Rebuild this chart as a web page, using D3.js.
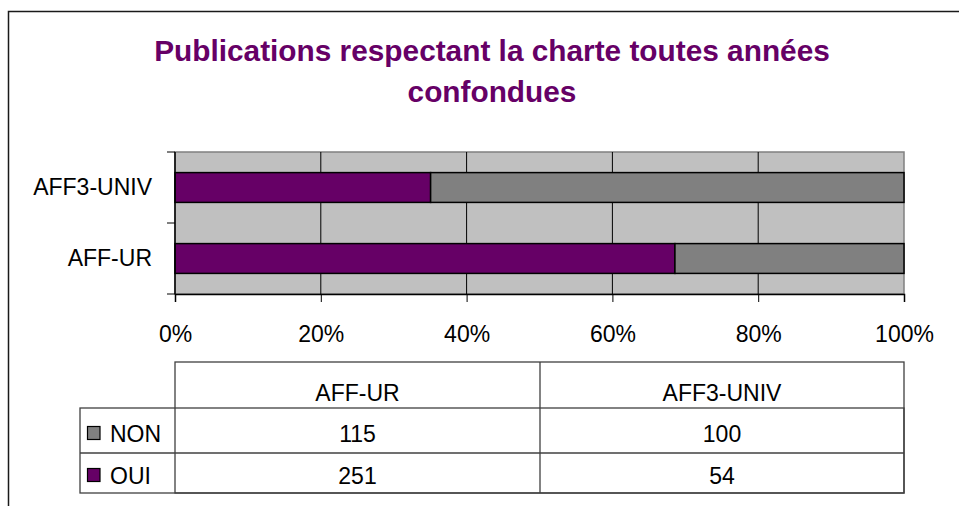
<!DOCTYPE html>
<html>
<head>
<meta charset="utf-8">
<script src="https://cdn.jsdelivr.net/npm/d3@7/dist/d3.min.js"></script>
<style>
  html, body { margin: 0; padding: 0; background: #fff; }
  svg { display: block; }
  text { font-family: "Liberation Sans", Arial, sans-serif; }
</style>
</head>
<body>
<svg id="chart" width="959" height="506"></svg>
<script>
// ---- data ----
const categories = ["AFF-UR", "AFF3-UNIV"];          // table column order
const barOrder = ["AFF3-UNIV", "AFF-UR"];            // top-to-bottom in chart
const seriesNames = ["NON", "OUI"];
const nonValues = [115, 100];
const ouiValues = [251, 54];
const tickValues = [0, 0.2, 0.4, 0.6, 0.8, 1.0];
const tickLabels = ["0%", "20%", "40%", "60%", "80%", "100%"];
const titleLines = ["Publications respectant la charte toutes années", "confondues"];

const colors = { OUI: "#660066", NON: "#808080" };

const svg = d3.select("#chart");

// outer frame
svg.append("rect")
  .attr("x", 8.5).attr("y", 11.5)
  .attr("width", 1000).attr("height", 600)
  .attr("fill", "#fff").attr("stroke", "#1a1a1a").attr("stroke-width", 1.5);

// title
svg.append("g").selectAll("text").data(titleLines).join("text")
  .attr("x", 492).attr("y", (d, i) => 61 + i * 41)
  .attr("text-anchor", "middle")
  .attr("font-size", 29.8).attr("font-weight", "bold")
  .attr("fill", "#660066")
  .text(d => d);

// scales
const x = d3.scaleLinear().domain([0, 1]).range([175, 904]);
const y = d3.scaleBand().domain(barOrder).range([152, 294])
  .paddingInner(0.58).paddingOuter(0.29);

const plot = svg.append("g");
// plot background
plot.append("rect")
  .attr("x", x(0)).attr("y", 152)
  .attr("width", x(1) - x(0)).attr("height", 294 - 152)
  .attr("fill", "#c0c0c0").attr("stroke", "#808080").attr("stroke-width", 1.5);

// gridlines
plot.append("g").selectAll("line").data(tickValues.slice(1, -1)).join("line")
  .attr("x1", d => x(d)).attr("x2", d => x(d))
  .attr("y1", 152).attr("y2", 294)
  .attr("stroke", "#000").attr("stroke-width", 1);

// stacked data
const rows = barOrder.map(c => {
  const i = categories.indexOf(c);
  return { cat: c, OUI: ouiValues[i], NON: nonValues[i] };
});
const stack = d3.stack().keys(["OUI", "NON"]).offset(d3.stackOffsetExpand);
const stacked = stack(rows);

plot.append("g").selectAll("g").data(stacked).join("g")
  .attr("fill", d => colors[d.key])
  .selectAll("rect").data(d => d).join("rect")
  .attr("x", d => x(d[0]))
  .attr("y", d => y(d.data.cat))
  .attr("width", d => x(d[1]) - x(d[0]))
  .attr("height", y.bandwidth())
  .attr("stroke", "#000").attr("stroke-width", 1.5);

// x axis
const xAxis = d3.axisBottom(x).tickValues(tickValues)
  .tickFormat((d, i) => tickLabels[i]).tickSize(8).tickPadding(24);
const gx = svg.append("g").attr("transform", "translate(0,294)").call(xAxis);
gx.select(".domain").attr("stroke", "#000").attr("stroke-width", 1.5);
gx.selectAll(".tick line").attr("stroke", "#000");
gx.selectAll("text").attr("font-size", 23).attr("fill", "#000")
  .attr("font-family", "'Liberation Sans', Arial, sans-serif");

// y axis: labels at band centers
const yAxis = d3.axisLeft(y).tickSize(0).tickPadding(23);
const gy = svg.append("g").attr("transform", "translate(175,0)").call(yAxis);
gy.select(".domain").remove();
gy.selectAll("text").attr("font-size", 23).attr("fill", "#000")
  .attr("font-family", "'Liberation Sans', Arial, sans-serif");

// y axis line and boundary ticks
const step = y.step();
const bounds = [152, 152 + step, 152 + 2 * step];
svg.append("line").attr("x1", 175).attr("x2", 175).attr("y1", 152).attr("y2", 294)
  .attr("stroke", "#000").attr("stroke-width", 1.5);
svg.append("g").selectAll("line").data(bounds).join("line")
  .attr("x1", 167).attr("x2", 175).attr("y1", d => d).attr("y2", d => d)
  .attr("stroke", "#000").attr("stroke-width", 1);

// ---- data table ----
const tbl = svg.append("g");
const colX = [175, 540, 904];
const rowY = [362, 408, 453, 493];
const lineColor = "#404040";
const tableRows = [
  { name: "NON", values: nonValues },
  { name: "OUI", values: ouiValues }
];
tbl.append("rect").attr("x", colX[0]).attr("y", rowY[0])
  .attr("width", colX[2] - colX[0]).attr("height", rowY[3] - rowY[0])
  .attr("fill", "none").attr("stroke", lineColor).attr("stroke-width", 1.3);
tbl.append("rect").attr("x", 80).attr("y", rowY[1])
  .attr("width", colX[2] - 80).attr("height", rowY[3] - rowY[1])
  .attr("fill", "none").attr("stroke", lineColor).attr("stroke-width", 1.3);
tbl.append("line").attr("x1", 80).attr("x2", colX[2]).attr("y1", rowY[2]).attr("y2", rowY[2])
  .attr("stroke", lineColor).attr("stroke-width", 1.3);
tbl.append("line").attr("x1", colX[1]).attr("x2", colX[1]).attr("y1", rowY[0]).attr("y2", rowY[3])
  .attr("stroke", lineColor).attr("stroke-width", 1.3);

// header labels
tbl.append("g").selectAll("text").data(categories).join("text")
  .attr("x", (d, i) => (colX[i] + colX[i + 1]) / 2)
  .attr("y", rowY[0] + 39)
  .attr("text-anchor", "middle").attr("font-size", 23).attr("fill", "#000")
  .text(d => d);

// rows
tableRows.forEach((r, ri) => {
  const top = rowY[ri + 1];
  const base = top + (ri === 0 ? 34 : 31);
  tbl.append("rect").attr("x", 87.5).attr("y", base - 15.5)
    .attr("width", 12.5).attr("height", 13)
    .attr("fill", colors[r.name]).attr("stroke", "#000").attr("stroke-width", 1.2);
  tbl.append("text").attr("x", 110).attr("y", base)
    .attr("font-size", 23).attr("fill", "#000").text(r.name);
  tbl.append("g").selectAll("text").data(r.values).join("text")
    .attr("x", (d, i) => (colX[i] + colX[i + 1]) / 2)
    .attr("y", base)
    .attr("text-anchor", "middle").attr("font-size", 23).attr("fill", "#000")
    .text(d => d);
});
</script>
</body>
</html>
